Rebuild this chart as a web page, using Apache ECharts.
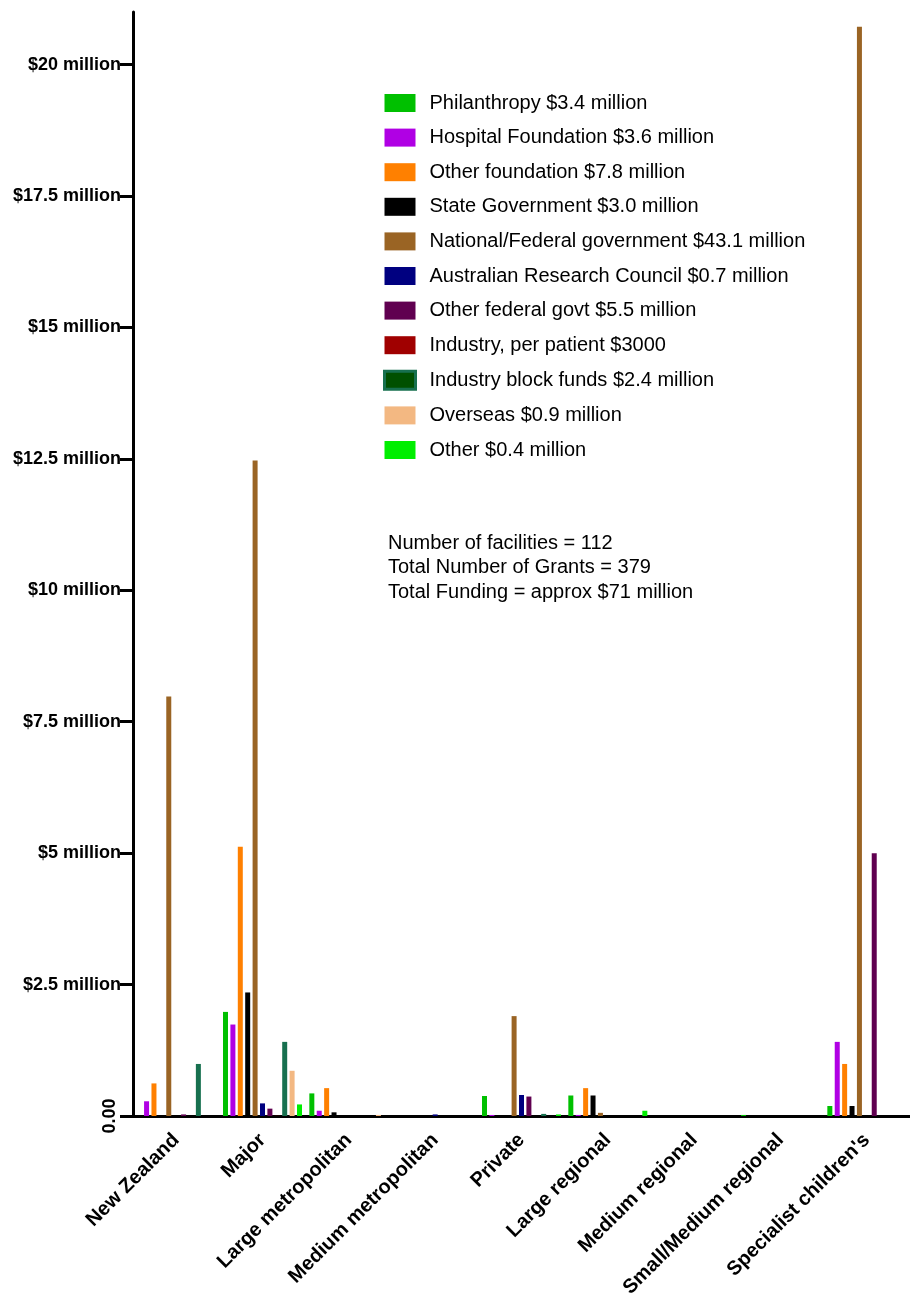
<!DOCTYPE html>
<html>
<head>
<meta charset="utf-8">
<script src="https://cdn.jsdelivr.net/npm/echarts@6/dist/echarts.min.js"></script>
<style>
html,body{margin:0;padding:0;background:#fff;}
#chart{width:910px;height:1304px;}
</style>
</head>
<body>
<div id="chart"></div>
<script>
// ---- data (values in $ million) ----
const categories = ["New Zealand","Major","Large metropolitan","Medium metropolitan","Private","Large regional","Medium regional","Small/Medium regional","Specialist children's"];
const philanthropy       = [0,    1.98, 0.43, 0,    0.38, 0.39, 0,    0.02, 0.19];
const hospitalFoundation = [0.28, 1.74, 0.10, 0,    0.02, 0.02, 0,    0,    1.41];
const otherFoundation    = [0.62, 5.12, 0.53, 0,    0,    0.53, 0,    0,    0.99];
const stateGovernment    = [0,    2.35, 0.07, 0,    0,    0.39, 0,    0,    0.19];
const nationalFederal    = [7.98, 12.47,0,    0,    1.90, 0.06, 0,    0,    20.72];
const researchCouncil    = [0,    0.24, 0,    0.03, 0.40, 0,    0,    0,    0];
const otherFederal       = [0.03, 0.14, 0,    0,    0.37, 0,    0,    0,    5.00];
const industryPerPatient = [0,    0.003,0,    0,    0,    0,    0,    0,    0];
const industryBlock      = [0.99, 1.41, 0,    0,    0.04, 0,    0,    0,    0];
const overseas           = [0,    0.86, 0.02, 0,    0,    0,    0,    0,    0];
const otherFunding       = [0,    0.22, 0,    0,    0.03, 0.10, 0,    0,    0];

const seriesNames = [
  "Philanthropy $3.4 million",
  "Hospital Foundation $3.6 million",
  "Other foundation $7.8 million",
  "State Government $3.0 million",
  "National/Federal government $43.1 million",
  "Australian Research Council $0.7 million",
  "Other federal govt $5.5 million",
  "Industry, per patient $3000",
  "Industry block funds $2.4 million",
  "Overseas $0.9 million",
  "Other $0.4 million"
];
const seriesData = [philanthropy, hospitalFoundation, otherFoundation, stateGovernment, nationalFederal,
  researchCouncil, otherFederal, industryPerPatient, industryBlock, overseas, otherFunding];
const seriesColors = ['#00c000','#b000e4','#ff8000','#000000','#9a6424','#000080','#600050','#a00000','#17704f','#f3b882','#00ee00'];
const yTicks = [0, 2.5, 5, 7.5, 10, 12.5, 15, 17.5, 20];
const yTickLabels = ["0.00","$2.5 million","$5 million","$7.5 million","$10 million","$12.5 million","$15 million","$17.5 million","$20 million"];

const FONT = '"Liberation Sans", Arial, sans-serif';
const chart = echarts.init(document.getElementById('chart'), null, {renderer:'canvas'});

const series = seriesNames.map((n, i) => ({
  name: n,
  type: 'bar',
  data: seriesData[i],
  barWidth: 5,
  barGap: '48%',
  itemStyle: { color: seriesColors[i] },
  animation: false
}));

const legendData = seriesNames.map((n, i) => {
  const d = { name: n };
  if (i === 8) d.itemStyle = { color: '#005000', borderColor: '#17704f', borderWidth: 3 };
  return d;
});

chart.setOption({
  animation: false,
  textStyle: { fontFamily: FONT },
  grid: { left: 133, right: -10, top: 12, bottom: 188, containLabel: false },
  legend: {
    data: legendData,
    orient: 'vertical',
    left: 383,
    top: 93,
    padding: 0,
    itemWidth: 31,
    itemHeight: 18,
    itemGap: 14.6,
    icon: 'rect',
    selectedMode: false,
    textStyle: { fontFamily: FONT, fontSize: 20, color: '#000', lineHeight: 18, padding: [0,0,0,9] }
  },
  xAxis: {
    type: 'category',
    data: categories,
    axisLine: { lineStyle: { color: '#000', width: 3 } },
    axisTick: { alignWithLabel: true, length: 12, lineStyle: { color: '#000', width: 3 } },
    axisLabel: { rotate: 45, interval: 0, margin: 21, color: '#000', fontWeight: 'bold', fontSize: 20, fontFamily: FONT }
  },
  yAxis: {
    type: 'value',
    min: 0,
    max: 21,
    splitLine: { show: false },
    axisLine: { show: true, lineStyle: { color: '#000', width: 3 } },
    axisTick: { show: true, length: 13, customValues: yTicks, lineStyle: { color: '#000', width: 3 } },
    axisLabel: {
      customValues: yTicks,
      margin: 12,
      color: '#000',
      fontWeight: 'bold',
      fontSize: 18,
      fontFamily: FONT,
      formatter: v => { const i = yTicks.indexOf(v); return (i <= 0) ? '' : yTickLabels[i]; }
    }
  },
  series: series
});

// extra texts positioned from the axes
const rect = chart.getModel().getComponent('grid').coordinateSystem.getRect();
const zeroY = chart.convertToPixel({ yAxisIndex: 0 }, 0);
chart.setOption({
  graphic: [
    {
      type: 'text', x: rect.x - 23, y: zeroY, rotation: Math.PI / 2,
      style: { text: yTickLabels[0], font: 'bold 18px ' + FONT, fill: '#000', align: 'center', verticalAlign: 'middle' }
    },
    {
      type: 'text', left: 388, top: 531,
      style: { text: 'Number of facilities = 112\nTotal Number of Grants = 379\nTotal Funding = approx $71 million',
        font: '20px ' + FONT, fill: '#000', lineHeight: 24.5 }
    },
    {
      type: 'text', x: 425, y: -21,
      style: { text: 'Funding by hospital type', font: 'bold 20px ' + FONT, fill: '#000', align: 'center', verticalAlign: 'top' }
    }
  ]
});
</script>
</body>
</html>
